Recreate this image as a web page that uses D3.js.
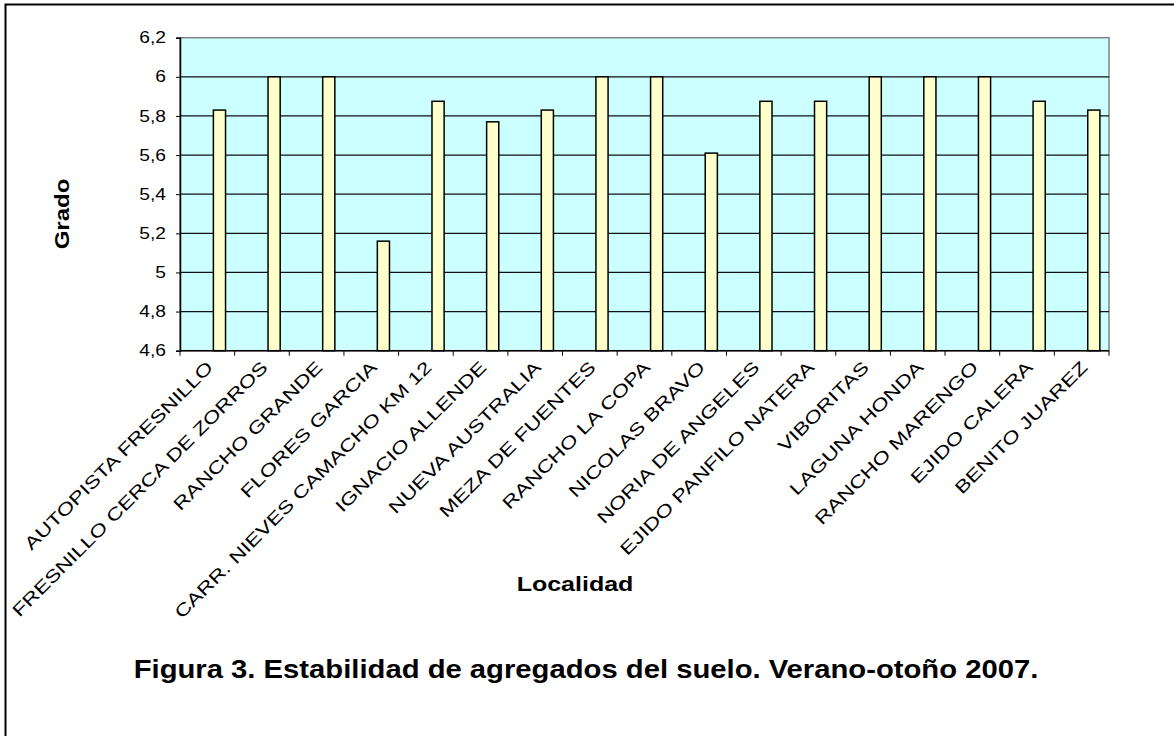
<!DOCTYPE html>
<html>
<head>
<meta charset="utf-8">
<script src="https://cdn.jsdelivr.net/npm/d3@7"></script>
<style>
  html, body { margin: 0; padding: 0; background: #fff; }
  svg { display: block; font-family: "Liberation Sans", Arial, sans-serif; }
</style>
</head>
<body>
<svg id="chart"></svg>
<script>
// localidades, in the order of the x axis
const categories = [
  "AUTOPISTA FRESNILLO", "FRESNILLO CERCA DE ZORROS", "RANCHO GRANDE", "FLORES GARCIA",
  "CARR. NIEVES CAMACHO KM 12", "IGNACIO ALLENDE", "NUEVA AUSTRALIA", "MEZA DE FUENTES",
  "RANCHO LA COPA", "NICOLAS BRAVO", "NORIA DE ANGELES", "EJIDO PANFILO NATERA",
  "VIBORITAS", "LAGUNA HONDA", "RANCHO MARENGO", "EJIDO CALERA", "BENITO JUAREZ"
];
// grado de estabilidad
const values = [5.83, 6.0, 6.0, 5.16, 5.875, 5.77, 5.83, 6.0, 6.0, 5.61, 5.875, 5.875, 6.0, 6.0, 6.0, 5.875, 5.83];
const yTicks = [4.6, 4.8, 5.0, 5.2, 5.4, 5.6, 5.8, 6.0, 6.2];
const yTickLabels = ["4,6", "4,8", "5", "5,2", "5,4", "5,6", "5,8", "6", "6,2"];
// the sheet reserves room for three series per category, only the third one holds data
const seriesSlots = ["s1", "s2", "s3"];

const width = 1174, height = 736;
const marginLeft = 180, marginRight = 65, marginTop = 37.7, marginBottom = 385.3;

const svg = d3.select("#chart")
    .attr("width", width)
    .attr("height", height)
    .attr("viewBox", [0, 0, width, height]);

// outer frame
svg.append("rect")
    .attr("x", 5.5).attr("y", 4.5)
    .attr("width", width + 20).attr("height", height + 20)
    .attr("fill", "#fff")
    .attr("stroke", "#000")
    .attr("stroke-width", 2);

const x = d3.scaleBand()
    .domain(categories)
    .range([marginLeft, width - marginRight])
    .padding(0);

const sub = d3.scaleBand()
    .domain(seriesSlots)
    .range([0, x.bandwidth()])
    .paddingInner(0)
    .paddingOuter(0.75);

const y = d3.scaleLinear()
    .domain([4.6, 6.2])
    .range([height - marginBottom, marginTop]);

// plot area
svg.append("rect")
    .attr("x", marginLeft).attr("y", marginTop)
    .attr("width", width - marginLeft - marginRight)
    .attr("height", height - marginTop - marginBottom)
    .attr("fill", "#ccffff")
    .attr("stroke", "#808080")
    .attr("stroke-width", 1.5);

// gridlines
svg.append("g")
    .selectAll("line")
    .data(yTicks.slice(1, -1))
    .join("line")
    .attr("x1", marginLeft).attr("x2", width - marginRight)
    .attr("y1", d => y(d)).attr("y2", d => y(d))
    .attr("stroke", "#111")
    .attr("stroke-width", 1.2);

// bars
svg.append("g")
    .selectAll("rect")
    .data(values)
    .join("rect")
    .attr("x", (d, i) => x(categories[i]) + sub("s3"))
    .attr("width", sub.bandwidth())
    .attr("y", d => y(d))
    .attr("height", d => y(4.6) - y(d))
    .attr("fill", "#ffffcc")
    .attr("stroke", "#000")
    .attr("stroke-width", 1.5);

// y axis
svg.append("g")
    .attr("transform", `translate(${marginLeft},0)`)
    .call(d3.axisLeft(y).tickValues(yTicks).tickSize(4).tickPadding(10)
        .tickFormat((d, i) => yTickLabels[i]))
    .call(g => g.select(".domain").attr("stroke", "#000").attr("stroke-width", 1.5))
    .call(g => g.selectAll(".tick line").attr("stroke", "#000"))
    .call(g => g.selectAll(".tick text")
        .attr("font-size", 16)
        .attr("fill", "#000")
        .attr("transform", function () { return `translate(${+this.getAttribute("x")},0) scale(1.2,1) translate(${-this.getAttribute("x")},0)`; }));

// x axis
const xAxisY = height - marginBottom;
svg.append("line")
    .attr("x1", marginLeft).attr("x2", width - marginRight)
    .attr("y1", xAxisY).attr("y2", xAxisY)
    .attr("stroke", "#000").attr("stroke-width", 1.5);

svg.append("g")
    .selectAll("line")
    .data(d3.range(categories.length + 1))
    .join("line")
    .attr("x1", i => marginLeft + i * x.step())
    .attr("x2", i => marginLeft + i * x.step())
    .attr("y1", xAxisY).attr("y2", xAxisY + 5)
    .attr("stroke", "#000");

svg.append("g")
    .selectAll("text")
    .data(categories)
    .join("text")
    .attr("transform", d => `translate(${x(d) + x.bandwidth() / 2 - 2},${xAxisY + 9}) rotate(-45) scale(1.3,1)`)
    .attr("text-anchor", "end")
    .attr("dy", "0.71em")
    .attr("font-size", 17.5)
    .attr("fill", "#000")
    .text(d => d);

// axis titles
svg.append("text")
    .attr("transform", "translate(69,214) rotate(-90) scale(1.2,1)")
    .attr("text-anchor", "middle")
    .attr("font-size", 20)
    .attr("font-weight", "bold")
    .attr("fill", "#000")
    .text("Grado");

svg.append("text")
    .attr("transform", "translate(575,591) scale(1.25,1)")
    .attr("text-anchor", "middle")
    .attr("font-size", 20)
    .attr("font-weight", "bold")
    .attr("fill", "#000")
    .text("Localidad");

// caption
svg.append("text")
    .attr("transform", "translate(586,678) scale(1.17,1)")
    .attr("text-anchor", "middle")
    .attr("font-size", 25)
    .attr("font-weight", "bold")
    .attr("fill", "#000")
    .text("Figura 3. Estabilidad de agregados del suelo. Verano-otoño 2007.");
</script>
</body>
</html>
